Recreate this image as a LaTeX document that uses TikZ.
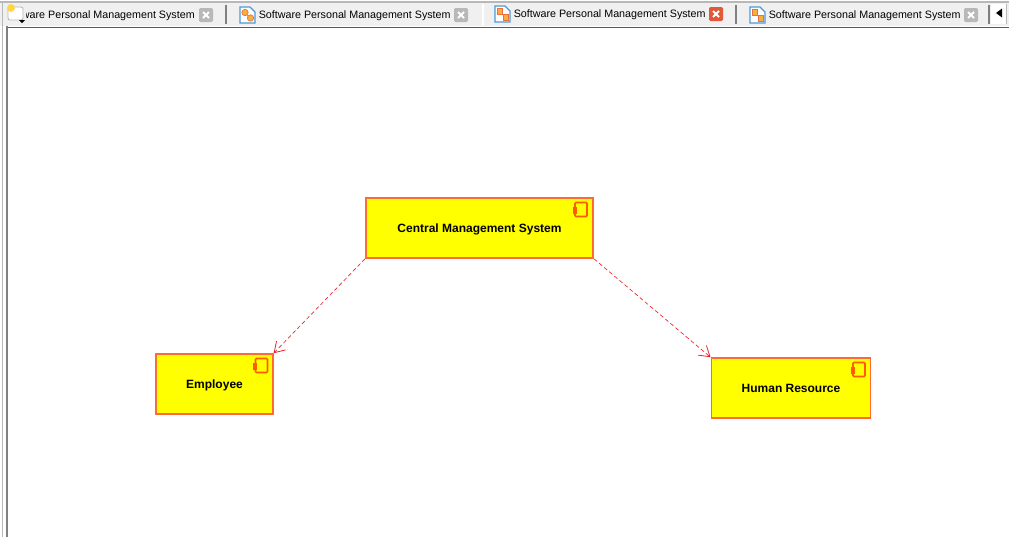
\documentclass[tikz,border=0pt]{standalone}
\usepackage{fontspec}
\setmainfont{Liberation Sans}
\usetikzlibrary{arrows.meta}
\definecolor{boxline}{RGB}{255,105,50}
\definecolor{boxfill}{RGB}{255,255,0}
\definecolor{iconline}{RGB}{255,90,0}
\definecolor{dep}{RGB}{240,32,42}
\definecolor{tabbg}{RGB}{240,240,240}
\definecolor{frameg}{RGB}{128,128,128}
\definecolor{closeg}{RGB}{184,184,184}
\definecolor{closer}{RGB}{224,90,58}
\definecolor{iconb}{RGB}{74,154,216}
\definecolor{icono}{RGB}{245,176,64}
\definecolor{iconr}{RGB}{240,110,60}
\definecolor{bulb}{RGB}{255,215,70}
\newcommand{\complabel}[1]{\raisebox{-1.1pt}[6.5pt][2pt]{#1}}
\tikzset{
  x=0.75pt,y=-0.75pt,
  comp/.style={draw=boxline,fill=boxfill,line width=1.2pt,inner sep=0pt,font=\fontsize{9}{10}\selectfont\bfseries,text=black},
  dependency/.style={draw=dep,line width=0.5pt,dash pattern=on 3pt off 2pt,-{Straight Barb[length=7.5pt,width=9.5pt,line width=0.6pt]}},
  tablabel/.style={font=\fontsize{8.04}{10}\selectfont,text=black,inner sep=0pt,anchor=west},
  sep/.style={draw=frameg,line width=0.9pt}
}
\newcommand{\compicon}[2]{%
  \draw[iconline,line width=1.2pt,rounded corners=0.8pt] (#1-6,#2-7) rectangle (#1+6,#2+7);
  \fill[iconline] (#1-8.5,#2-3) rectangle (#1-4.5,#2+0.2);
  \fill[iconline] (#1-8.5,#2+0.8) rectangle (#1-4.5,#2+4);
}
\newcommand{\closebtn}[3]{%
  \fill[#3,rounded corners=1pt] (#1-7,#2-7) rectangle (#1+7,#2+7);
  \draw[white,line width=1.5pt] (#1-3,#2-3) -- (#1+3,#2+3) (#1-3,#2+3) -- (#1+3,#2-3);
}
\newcommand{\tabicon}[2]{%
  \fill[white] (#1,#2) -- (#1+10,#2) -- (#1+15,#2+5) -- (#1+15,#2+16) -- (#1,#2+16) -- cycle;
  \draw[iconb,line width=1pt] (#1,#2) -- (#1+10,#2) -- (#1+15,#2+5) -- (#1+15,#2+16) -- (#1,#2+16) -- cycle;
  \draw[iconr,line width=0.5pt] (#1+5,#2+6) -- (#1+10,#2+11);
}
\newcommand{\iconround}[2]{%
  \tabicon{#1}{#2}
  \fill[icono,draw=iconr,line width=0.5pt] (#1+5,#2+5.5) circle (3.2);
  \fill[icono,draw=iconr,line width=0.5pt] (#1+10.5,#2+11) circle (3.2);
}
\newcommand{\iconsquare}[2]{%
  \tabicon{#1}{#2}
  \fill[icono,draw=iconr,line width=0.5pt] (#1+2,#2+2.5) rectangle (#1+7.5,#2+8.5);
  \fill[icono,draw=iconr,line width=0.5pt] (#1+8,#2+8.5) rectangle (#1+13.5,#2+14);
}
\begin{document}
\begin{tikzpicture}
\useasboundingbox (0,0) rectangle (1009,537);
\fill[white] (0,0) rectangle (1009,537);
% tab strip
\fill[tabbg] (0,2) rectangle (1009,26);
\draw[closeg,line width=0.8pt] (0,2) -- (1009,2);
\draw[white,line width=0.8pt] (483,4) -- (483,25);
\draw[sep] (226,5) -- (226,24);
\draw[sep] (736,5) -- (736,24);
\draw[sep] (989,5) -- (989,24);
% diagram frame
\fill[frameg!70!black] (6,26.5) rectangle (1009,28);
\fill[closeg] (2,2) rectangle (3,537);
\fill[frameg] (6,26) rectangle (7.5,537);
% scroll arrow
\fill[white] (991,4) rectangle (1006,24);
\draw[closeg,line width=0.5pt] (1006,4) -- (1006,24);
\fill[black] (996,13) -- (1002,8.5) -- (1002,17.5) -- cycle;
% tab labels
\begin{scope}
\clip (26.5,3) rectangle (200,25);
\node[tablabel,anchor=east] (t1) at (195,16) {Software Personal Management System};
\end{scope}
\node[tablabel] (t2) at (258.5,16) {Software Personal Management System};
\node[tablabel] (t3) at (513.5,15) {Software Personal Management System};
\node[tablabel] (t4) at (768.5,16) {Software Personal Management System};
% tab 1 icon
\fill[white,draw=closeg,line width=0.7pt,rounded corners=1.5pt] (8,7) rectangle (23,20);
\fill[bulb] (11,8) circle (4);
\fill[black] (19,20) -- (25,20) -- (22,23) -- cycle;
% tab icons
\iconround{240}{7}
\iconsquare{495}{6}
\iconsquare{750}{7}
\closebtn{206}{15}{closeg}
\closebtn{461}{15}{closeg}
\closebtn{716}{14}{closer}
\closebtn{971}{15}{closeg}
% components
\node[comp,minimum width=170.5pt,minimum height=45pt] (cms) at (479.5,228) {\complabel{Central Management System}};
\node[comp,minimum width=87.5pt,minimum height=45pt] (emp) at (214.5,384) {\complabel{Employee}};
\node[comp,minimum width=119.5pt,minimum height=45pt] (hr) at (791,388) {\complabel{Human Resource}};
\compicon{581}{209.5}
\compicon{261.5}{365.5}
\compicon{859}{369.5}
% dependencies
\draw[dependency] (cms.south west) -- (emp.north east);
\draw[dependency] (cms.south east) -- (hr.north west);
\end{tikzpicture}
\end{document}
